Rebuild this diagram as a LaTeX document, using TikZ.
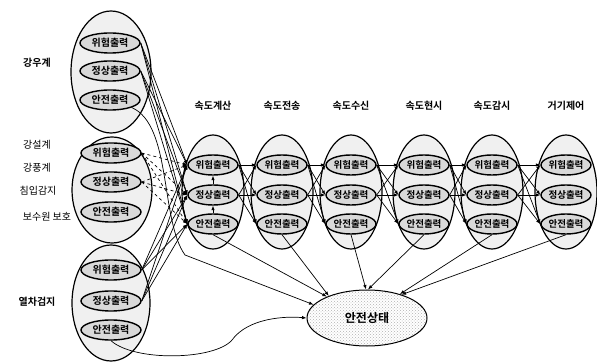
\documentclass[tikz,border=0pt]{standalone}
\usepackage{fontspec}
\setmainfont{Noto Sans CJK KR}[BoldFont={Noto Sans CJK KR Bold}]
\usetikzlibrary{arrows.meta,patterns,shapes.geometric}
\begin{document}
\begin{tikzpicture}[x=1pt,y=-1pt,
  outer/.style={draw, ellipse, fill=gray!12, line width=1.2pt, inner sep=0pt},
  innerL/.style={draw, ellipse, fill=gray!30, line width=1.4pt, minimum width=60pt, minimum height=20pt, inner sep=0pt, font=\bfseries\fontsize{10}{10}\selectfont},
  innerC/.style={draw, ellipse, fill=gray!30, line width=1.4pt, minimum width=50pt, minimum height=20pt, inner sep=0pt, font=\bfseries\fontsize{9.5}{9.5}\selectfont},
  hdr/.style={font=\bfseries\fontsize{10}{10}\selectfont},
  lbl/.style={font=\fontsize{10}{10}\selectfont},
  lblb/.style={font=\bfseries\fontsize{10}{10}\selectfont},
  arr/.style={-{Latex[length=4.5pt,width=3.5pt]}, line width=0.7pt},
  darr/.style={arr, dashed}]
\useasboundingbox (0,0) rectangle (597,363);

% left groups
\node[outer, minimum width=80pt, minimum height=122pt] (L1) at (111,72) {};
\node[outer, minimum width=80pt, minimum height=106pt] (L2) at (112,190) {};
\node[outer, minimum width=78pt, minimum height=116pt] (L3) at (111,303) {};

\node[innerL] (a1) at (110,43) {위험출력};
\node[innerL] (a2) at (110,71) {정상출력};
\node[innerL] (a3) at (110,100) {안전출력};
\node[innerL] (b1) at (111,153) {위험출력};
\node[innerL] (b2) at (111,182) {정상출력};
\node[innerL] (b3) at (111,212) {안전출력};
\node[innerL] (c1) at (111,270) {위험출력};
\node[innerL] (c2) at (111,301) {정상출력};
\node[innerL] (c3) at (111,330) {안전출력};

\node[lblb] (t1) at (37,63) {강우계};
\node[lbl] (t2) at (37,145) {강설계};
\node[lbl] (t3) at (37,168) {강풍계};
\node[lbl] (t4) at (38,191) {침입감지};
\node[lbl] (t5) at (47,217) {보수원 보호};
\node[lblb] (t6) at (37,302) {열차검지};

% columns
\foreach \i/\x/\nm in {1/213/속도계산,2/282/속도전송,3/351/속도수신,4/424/속도현시,5/492/속도감시,6/566/거기제어}{
  \node[outer, minimum width=62pt, minimum height=114pt] (C\i) at (\x,192) {};
  \node[innerC] (C\i-1) at (\x,165) {위험출력};
  \node[innerC] (C\i-2) at (\x,195) {정상출력};
  \node[innerC] (C\i-3) at (\x,224) {안전출력};
  \node[hdr] (H\i) at (\x,106) {\nm};
}

% safe state
\node[draw, ellipse, line width=1pt, minimum width=120pt, minimum height=56pt,
  preaction={fill=white}, pattern=crosshatch dots, pattern color=gray!60,
  font=\bfseries\fontsize{12}{12}\selectfont] (safe) at (367,318) {안전상태};

% column to column
\foreach \i/\j in {1/2,2/3,3/4,4/5,5/6}{
  \foreach \s in {1,2}{
    \foreach \t in {1,2,3}{
      \draw[arr] (C\i-\s.east) -- (C\j-\t.west);
    }
  }
}
% inside first column
\draw[arr] (C1-3.north) -- (C1-2.south);
\draw[arr] (C1-2.north) -- (C1-1.south);

% left to first column
\foreach \s in {1,2}{
  \foreach \t in {1,2,3}{
    \draw[arr] (a\s.east) -- (C1-\t.west);
    \draw[darr] (b\s.east) -- (C1-\t.west);
    \draw[arr] (c\s.east) -- (C1-\t.west);
  }
}

% safe outputs to safe state
\draw[arr] (C1-3.south) -- (safe.152);
\draw[arr] (C2-3.south) -- (safe.150);
\draw[arr] (C3-3.south) -- (safe.92);
\draw[arr] (C4-3.south) -- (safe.88);
\draw[arr] (C5-3.south) -- (safe.36);
\draw[arr] (C6-3.south) -- (safe.34);
\draw[arr] (a3.south east) .. controls (172,125) and (160,220) .. (185,255) -- (safe.166);
\draw[arr] (c3.south) .. controls (135,362) and (215,360) .. (232,340) .. controls (248,318) and (285,316) .. (safe.west);
\end{tikzpicture}
\end{document}
